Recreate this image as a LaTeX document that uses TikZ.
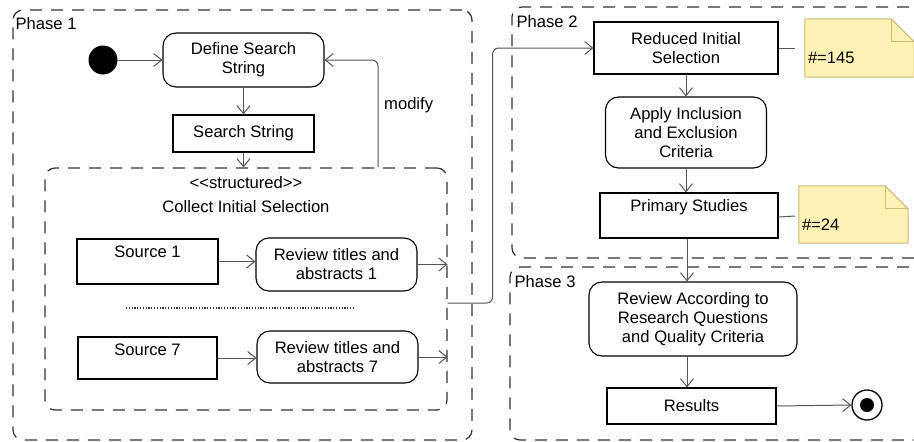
\documentclass[tikz,border=0pt]{standalone}
\usepackage{fontspec}
\setmainfont{Liberation Sans}
\usetikzlibrary{arrows.meta}
\definecolor{dashc}{RGB}{50,50,50}
\definecolor{connc}{RGB}{85,85,85}
\definecolor{notefill}{RGB}{255,242,180}
\definecolor{notedraw}{RGB}{205,185,120}
\begin{document}
\begin{tikzpicture}[x=1pt,y=-1pt,
  every node/.style={font=\fontsize{16.6}{19}\selectfont},
  container/.style={draw=dashc, line width=1.2pt, dash pattern=on 12pt off 9pt, rounded corners=10pt, inner sep=0},
  act/.style={draw=black, line width=1.1pt, rounded corners=13pt, align=center, inner sep=0},
  obj/.style={draw=black, line width=1.1pt, align=center, inner sep=0},
  conn/.style={draw=connc, line width=1pt, -{Straight Barb[length=8pt,width=13pt]}},
  plainline/.style={draw=connc, line width=1pt},
  notebody/.style={fill=notefill, draw=notedraw, line width=1pt},
  toplabel/.style={label={[anchor=north, inner sep=0, yshift=-7pt]north:#1}},
  phaselabel/.style={anchor=west, inner sep=0},
]
\useasboundingbox (0,0) rectangle (914,442);

% containers
\node[container, minimum width=459, minimum height=430] (p1) at (242.5,225) {};
\node[container, minimum width=402, minimum height=242] (struct) at (246,289) {};
\node[container, minimum width=428, minimum height=251] (p2) at (726,132.5) {};
\node[container, minimum width=430, minimum height=173] (p3) at (725,353.5) {};

\node[phaselabel] (p1l) at ([xshift=3pt,yshift=-14pt]p1.north west) {Phase 1};
\node[phaselabel] (p2l) at ([xshift=5pt,yshift=-15pt]p2.north west) {Phase 2};
\node[phaselabel] (p3l) at ([xshift=5pt,yshift=-15pt]p3.north west) {Phase 3};

% phase 1
\node[circle, fill=black, minimum size=29, inner sep=0] (init) at (103,60) {};
\node[act, minimum width=161, minimum height=54] (define) at (243.5,60) {Define Search\\String};
\node[obj, minimum width=141, minimum height=37] (ss) at (243.5,133.5) {Search String};
\node (stereo) at (246,183) {<\kern0pt<structured>\kern0pt>};
\node (collect) at (246,207) {Collect Initial Selection};
\node[obj, minimum width=141, minimum height=45, toplabel={Source 1}] (src1) at (147.5,261.5) {};
\node[act, minimum width=161, minimum height=53] (rev1) at (336.5,264.5) {Review titles and\\abstracts 1};
\node[obj, minimum width=139, minimum height=42, toplabel={Source 7}] (src7) at (147.5,358) {};
\node[act, minimum width=161, minimum height=52] (rev7) at (337.5,357) {Review titles and\\abstracts 7};
\draw[draw=black!80, line width=1.1pt, dash pattern=on 1.1pt off 1.7pt] (126,308) -- (353,308);
\node[inner sep=0, anchor=west] (modifylbl) at (384,105) {modify};

\draw[conn] (init) -- (define.west);
\draw[conn] (define.south) -- (ss.north);
\draw[conn] (ss.south) -- (ss.south |- struct.north);
\draw[conn, rounded corners=6pt] ([xshift=132pt]struct.north) |- (define.east);
\draw[conn] (src1.east) -- (src1.east -| rev1.west);
\draw[conn] (rev1.east) -- (rev1.east -| struct.east);
\draw[conn] (src7.east) -- (src7.east -| rev7.west);
\draw[conn] (rev7.east) -- (rev7.east -| struct.east);

% phase 2
\node[obj, minimum width=184, minimum height=52] (reduced) at (686,48) {Reduced Initial\\Selection};
\node[act, minimum width=161, minimum height=71] (apply) at (686,132.5) {Apply Inclusion\\and Exclusion\\Criteria};
\node[obj, minimum width=178, minimum height=45, toplabel={Primary Studies}] (primary) at (689,215.5) {};
\draw[conn, rounded corners=6pt] ([yshift=-14pt]struct.east) -- ++(45,0) |- (reduced.west);
\draw[conn] (reduced.south -| apply.north) -- (apply.north);
\draw[conn] (apply.south) -- (apply.south |- primary.north);

% notes
\node[minimum width=109, minimum height=58, inner sep=0] (n1) at (859.5,48) {};
\filldraw[notebody] (n1.north west) -- ([xshift=-23pt]n1.north east) -- ([yshift=-23pt]n1.north east) -- (n1.south east) -- (n1.south west) -- cycle;
\draw[notebody, fill=none] ([xshift=-23pt]n1.north east) |- ([yshift=-23pt]n1.north east);
\node[anchor=base west, inner sep=0] (n1t) at ([xshift=3pt,yshift=14pt]n1.south west) {\#=145};
\draw[plainline] (reduced.east) -- ([xshift=-10pt]n1.west);

\node[minimum width=109, minimum height=57, inner sep=0] (n2) at (853.5,214.5) {};
\filldraw[notebody] (n2.north west) -- ([xshift=-23pt]n2.north east) -- ([yshift=-23pt]n2.north east) -- (n2.south east) -- (n2.south west) -- cycle;
\draw[notebody, fill=none] ([xshift=-23pt]n2.north east) |- ([yshift=-23pt]n2.north east);
\node[anchor=base west, inner sep=0] (n2t) at ([xshift=3pt,yshift=13pt]n2.south west) {\#=24};
\draw[plainline] ([yshift=-1.5pt]primary.east) -- ([xshift=-4pt,yshift=-1.5pt]n2.west);

% phase 3
\node[act, minimum width=208, minimum height=74] (revq) at (693,319) {Review According to\\Research Questions\\and Quality Criteria};
\node[obj, minimum width=169, minimum height=36] (results) at (691.5,406) {Results};
\node[circle, draw=black, line width=1.3pt, minimum size=30, inner sep=0] (final) at (867,405) {};
\fill[black] (final.center) circle (7pt);

\draw[conn] (primary.south -| 687,0) -- (revq.north -| 687,0);
\draw[conn] (revq.south -| 687,0) -- (results.north -| 687,0);
\draw[conn] (results.east -| results.east) -- (final.west);
\end{tikzpicture}
\end{document}
